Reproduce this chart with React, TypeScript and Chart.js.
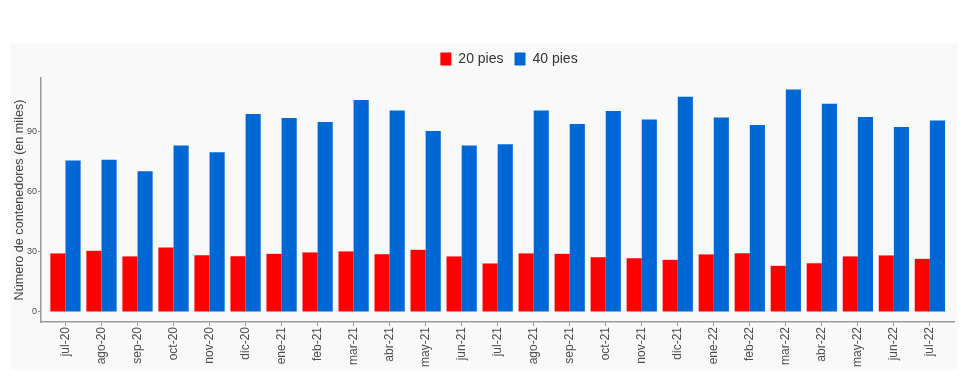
import React, { useEffect, useRef } from "react";
import { Chart, registerables } from "chart.js";

Chart.register(...registerables);

const months = [
  "jul-20", "ago-20", "sep-20", "oct-20", "nov-20", "dic-20",
  "ene-21", "feb-21", "mar-21", "abr-21", "may-21", "jun-21",
  "jul-21", "ago-21", "sep-21", "oct-21", "nov-21", "dic-21",
  "ene-22", "feb-22", "mar-22", "abr-22", "may-22", "jun-22", "jul-22",
];

const pies20 = [
  29.2, 30.5, 27.7, 32.2, 28.3, 27.8,
  29.0, 29.7, 30.2, 28.8, 31.0, 27.7,
  24.2, 29.2, 29.0, 27.3, 26.8, 26.0,
  28.7, 29.3, 23.0, 24.3, 27.7, 28.2, 26.5,
];

const pies40 = [
  75.5, 75.9, 70.2, 83.0, 79.7, 98.8,
  96.7, 94.8, 105.7, 100.5, 90.3, 83.0,
  83.7, 100.5, 93.7, 100.3, 96.0, 107.3,
  97.0, 93.3, 111.0, 103.8, 97.2, 92.3, 95.5,
];

const yTicks = [0, 30, 60, 90];

const FONT = "'Liberation Sans', Arial, Helvetica, sans-serif";
const AXIS = "#9a9a9a";
const TEXT = "#4d4d4d";

const shiftLegend = {
  id: "shiftLegend",
  afterLayout(chart: any) {
    const lg = chart.legend;
    if (lg) {
      lg.left += 27;
      lg.right += 27;
      lg.top -= 2;
      lg.bottom -= 2;
    }
  },
};

export default function App() {
  const ref = useRef<HTMLCanvasElement>(null);

  useEffect(() => {
    const chart = new Chart(ref.current as HTMLCanvasElement, {
      type: "bar",
      data: {
        datasets: [
          {
            label: "20 pies",
            data: pies20.map((v, i) => ({ x: i, y: v })),
            backgroundColor: "#ff0000",
            borderWidth: 0,
            categoryPercentage: 0.84,
            barPercentage: 1,
          },
          {
            label: "40 pies",
            data: pies40.map((v, i) => ({ x: i, y: v })),
            backgroundColor: "#0068d4",
            borderWidth: 0,
            categoryPercentage: 0.84,
            barPercentage: 1,
          },
        ],
      },
      options: {
        animation: false,
        responsive: false,
        devicePixelRatio: 1,
        layout: { padding: { top: 0, right: 4, left: 0, bottom: 0 } },
        plugins: {
          legend: {
            position: "top",
            labels: {
              boxWidth: 11,
              boxHeight: 13,
              padding: 11,
              color: "#333333",
              font: { family: FONT, size: 14 },
            },
          },
          tooltip: { enabled: false },
        },
        scales: {
          x: {
            type: "linear",
            min: -0.68,
            max: 24.67,
            offset: false,
            afterBuildTicks: (s: any) => {
              s.ticks = months.map((_, i) => ({ value: i }));
            },
            afterFit: (s: any) => {
              s.height = 48;
            },
            ticks: {
              autoSkip: false,
              minRotation: 90,
              maxRotation: 90,
              padding: 1,
              color: TEXT,
              font: { family: FONT, size: 12 },
              callback: (v: any) => months[v] ?? "",
            },
            grid: {
              display: true,
              offset: false,
              drawOnChartArea: false,
              drawTicks: true,
              tickLength: 4,
              color: AXIS,
              lineWidth: 1,
            },
            border: { display: true, color: AXIS, width: 1.5 },
          },
          y: {
            min: -5,
            max: 116.7,
            afterBuildTicks: (s: any) => {
              s.ticks = yTicks.map((v) => ({ value: v }));
            },
            afterFit: (s: any) => {
              s.width = 31;
            },
            ticks: {
              padding: 1,
              color: TEXT,
              font: { family: FONT, size: 9 },
            },
            grid: {
              display: true,
              drawOnChartArea: false,
              drawTicks: true,
              tickLength: 3,
              color: AXIS,
              lineWidth: 1,
            },
            border: { display: true, color: AXIS, width: 1.5 },
            title: {
              display: true,
              text: "Número de contenedores (en miles)",
              color: "#444444",
              font: { family: FONT, size: 12.6 },
              padding: { top: 2, bottom: 0 },
            },
          },
        },
      },
      plugins: [shiftLegend],
    } as any);
    return () => chart.destroy();
  }, []);

  return (
    <div
      style={{
        position: "fixed",
        left: 0,
        top: 0,
        width: 968,
        height: 376,
        background: "#ffffff",
      }}
    >
      <div
        style={{
          position: "absolute",
          left: 10,
          top: 43,
          width: 948,
          height: 327,
          background: "#f9f9f9",
        }}
      >
        <canvas ref={ref} width={948} height={327} style={{ display: "block" }} />
      </div>
    </div>
  );
}
